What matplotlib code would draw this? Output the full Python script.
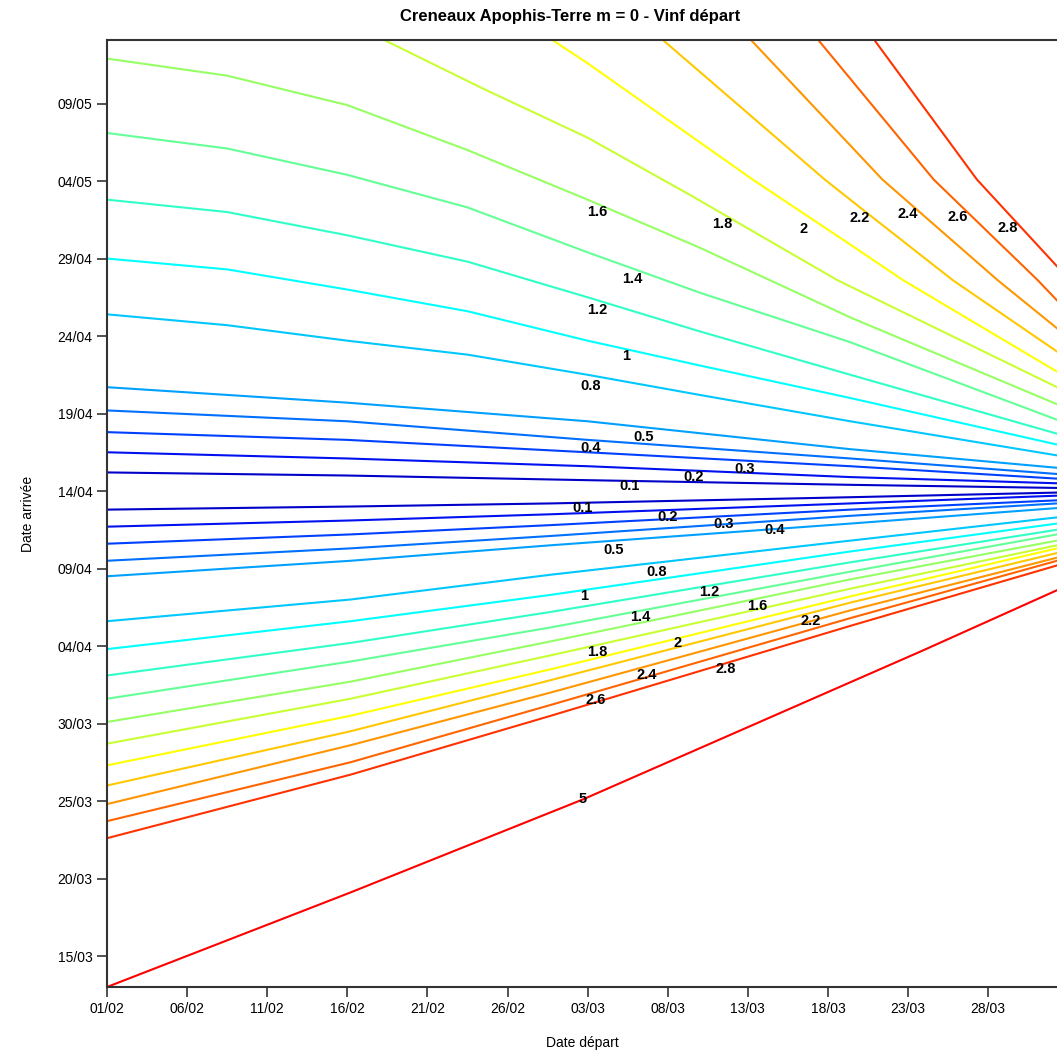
import datetime as dt

import matplotlib
matplotlib.use("Agg")
import matplotlib.pyplot as plt
from matplotlib.ticker import FuncFormatter

# departure: days after 01/02/2029, arrival: days after 01/03/2029
dep_start = dt.datetime(2029, 2, 1)
arr_start = dt.datetime(2029, 3, 1)

levels = [0.1, 0.2, 0.3, 0.4, 0.5, 0.8, 1, 1.2, 1.4, 1.6, 1.8, 2, 2.2, 2.4, 2.6, 2.8, 5]
level_colors = {
    0.1: "#0000c8", 0.2: "#0010f0", 0.3: "#0040ff", 0.4: "#0070ff",
    0.5: "#00a0ff", 0.8: "#00c8ff", 1: "#00ffff", 1.2: "#30ffc8",
    1.4: "#64ff96", 1.6: "#96ff64", 1.8: "#c8ff32", 2: "#ffff00",
    2.2: "#ffc800", 2.4: "#ff9600", 2.6: "#ff6400", 2.8: "#ff3200", 5: "#ff0000",
}

# upper branch (arrival after the flyby), read at these departure days
dep_upper = [0, 7.5, 15.0, 22.5, 30.0, 37.0, 46.4, 59.3]
arr_upper = {
    1.6: [71.9, 70.8, 68.9, 66.0, 62.8, 59.7, 55.2, 49.6],
    1.4: [67.1, 66.1, 64.4, 62.3, 59.4, 56.8, 53.6, 48.6],
    1.2: [62.8, 62.0, 60.5, 58.8, 56.5, 54.3, 51.5, 47.7],
    1: [59.0, 58.3, 57.0, 55.6, 53.7, 52.1, 50.0, 47.0],
    0.8: [55.4, 54.7, 53.7, 52.8, 51.5, 50.2, 48.5, 46.3],
}
dep_upper_low = [0, 15.0, 30.0, 46.4, 59.3]
arr_upper_low = {
    0.5: [50.7, 49.7, 48.5, 46.7, 45.5],
    0.4: [49.2, 48.5, 47.3, 46.1, 45.1],
    0.3: [47.8, 47.3, 46.5, 45.6, 44.8],
    0.2: [46.5, 46.1, 45.6, 44.9, 44.5],
    0.1: [45.2, 45.0, 44.7, 44.4, 44.2],
}

# upper branch curves leaving through the top of the window
dep_top = {
    1.8: [17.3, 23.6, 30.0, 36.4, 45.6, 59.3],
    2: [27.8, 30.0, 40.3, 46.4, 49.7, 59.3],
    2.2: [34.7, 44.8, 47.0, 52.8, 59.3],
    2.4: [40.2, 48.4, 55.6, 59.3],
    2.6: [44.4, 51.6, 58.1, 59.3],
    2.8: [47.9, 54.3, 59.3],
}
arr_top = {
    1.8: [73.1, 69.9, 66.8, 63.1, 57.6, 50.7],
    2: [73.1, 71.6, 64.1, 59.9, 57.6, 51.7],
    2.2: [73.1, 64.1, 62.3, 57.6, 53.0],
    2.4: [73.1, 64.1, 57.6, 54.5],
    2.6: [73.1, 64.1, 57.6, 56.3],
    2.8: [73.1, 64.1, 58.5],
}

# lower branch (arrival before the flyby)
dep_lower = [0, 15.2, 27.7, 46.4, 59.3]
arr_lower = {
    0.1: [42.8, 43.0, 43.2, 43.6, 43.9],
    0.2: [41.7, 42.1, 42.5, 43.2, 43.7],
    0.3: [40.6, 41.2, 41.8, 42.8, 43.4],
    0.4: [39.5, 40.3, 41.1, 42.4, 43.2],
    0.5: [38.5, 39.5, 40.5, 41.9, 42.9],
    0.8: [35.6, 37.0, 38.6, 40.8, 42.3],
    1: [33.8, 35.6, 37.3, 40.1, 41.9],
    1.2: [32.1, 34.2, 36.2, 39.4, 41.5],
    1.4: [30.6, 33.0, 35.2, 38.8, 41.2],
    1.6: [29.1, 31.7, 34.3, 38.3, 40.8],
    1.8: [27.7, 30.6, 33.4, 37.7, 40.5],
    2: [26.3, 29.5, 32.5, 37.2, 40.3],
    2.2: [25.0, 28.5, 31.8, 36.8, 40.0],
    2.4: [23.8, 27.6, 31.0, 36.3, 39.7],
    2.6: [22.7, 26.5, 30.2, 35.8, 39.5],
    2.8: [21.6, 25.7, 29.5, 35.3, 39.2],
}
dep_five = [0, 15.2, 29.7, 50.9, 59.3]
arr_five = [12.0, 18.1, 24.1, 33.7, 37.6]

# contour labels (level, departure day, arrival day)
labels_upper = [
    (0.1, 32.6, 44.3), (0.2, 36.6, 44.9), (0.3, 39.8, 45.4), (0.4, 30.2, 46.8),
    (0.5, 33.5, 47.5), (0.8, 30.2, 50.8), (1, 32.4, 52.7), (1.2, 30.6, 55.7),
    (1.4, 32.8, 57.7), (1.6, 30.6, 62.0), (1.8, 38.4, 61.2), (2, 43.5, 60.9),
    (2.2, 47.0, 61.6), (2.4, 50.0, 61.9), (2.6, 53.1, 61.7), (2.8, 56.2, 61.0),
]
labels_lower = [
    (0.1, 29.7, 42.9), (0.2, 35.0, 42.3), (0.3, 38.5, 41.9), (0.4, 41.7, 41.5),
    (0.5, 31.6, 40.2), (0.8, 34.3, 38.8), (1, 29.8, 37.2), (1.2, 37.6, 37.5),
    (1.4, 33.3, 35.9), (1.6, 40.6, 36.6), (1.8, 30.6, 33.6), (2, 35.6, 34.2),
    (2.2, 43.9, 35.6), (2.4, 33.7, 32.1), (2.6, 30.5, 30.5), (2.8, 38.6, 32.5),
    (5, 29.7, 24.1),
]

plt.rcParams["font.family"] = ["Liberation Sans", "DejaVu Sans"]

fig = plt.figure(figsize=(10.57, 10.53), dpi=100)
ax = fig.add_axes([107 / 1057, 66 / 1053, 950 / 1057, 947 / 1053])

lw = 1.5
for lev, arr in arr_upper.items():
    ax.plot(dep_upper, arr, color=level_colors[lev], lw=lw)
for lev, arr in arr_upper_low.items():
    ax.plot(dep_upper_low, arr, color=level_colors[lev], lw=lw)
for lev in dep_top:
    ax.plot(dep_top[lev], arr_top[lev], color=level_colors[lev], lw=lw)
for lev, arr in arr_lower.items():
    ax.plot(dep_lower, arr, color=level_colors[lev], lw=lw)
ax.plot(dep_five, arr_five, color=level_colors[5], lw=lw)

for lev, x, y in labels_upper + labels_lower:
    ax.text(x, y, f"{lev:g}", ha="center", va="center",
            fontsize=10.5, fontweight="bold", color="black")

ax.set_xlim(0, 59.3)
ax.set_ylim(12.0, 73.1)

ax.set_xticks(range(0, 59, 5))
ax.set_yticks(range(14, 73, 5))
ax.xaxis.set_major_formatter(FuncFormatter(
    lambda v, p: (dep_start + dt.timedelta(days=float(v))).strftime("%d/%m")))
ax.yaxis.set_major_formatter(FuncFormatter(
    lambda v, p: (arr_start + dt.timedelta(days=float(v))).strftime("%d/%m")))
ax.tick_params(direction="out", length=7, width=1.2, colors="#333333",
               labelcolor="black", labelsize=10)

ax.spines["right"].set_visible(False)
for s in ["left", "bottom", "top"]:
    ax.spines[s].set_linewidth(1.5)
    ax.spines[s].set_color("#333333")

ax.set_xlabel("Date départ", fontsize=10, labelpad=15)
ax.set_ylabel("Date arrivée", fontsize=10, labelpad=16)
fig.text(570 / 1057, 1 - 16 / 1053, "Creneaux Apophis-Terre m = 0 - Vinf départ",
         ha="center", va="center", fontsize=12, fontweight="bold")

fig.savefig("out.png", dpi=100)
